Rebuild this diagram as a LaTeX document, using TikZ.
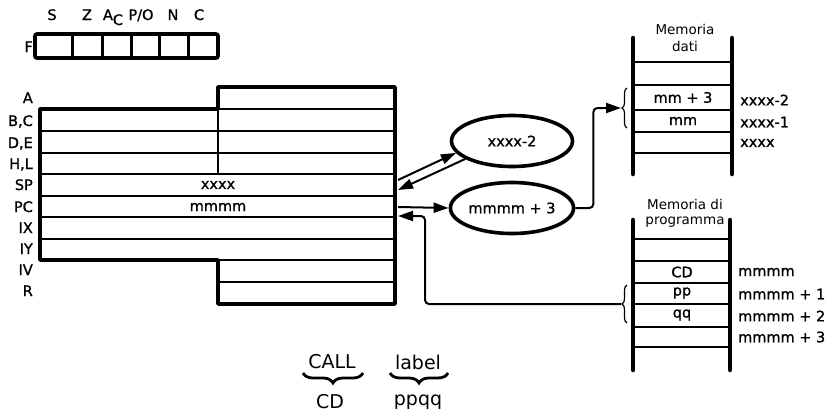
\documentclass[tikz,border=0pt]{standalone}
\usepackage{fontspec}
\setmainfont{DejaVu Sans}
\newfontfamily\heavyfont{DejaVu Sans}[FakeBold=1.1]
\usetikzlibrary{shapes.geometric,arrows.meta,decorations.pathreplacing}
\begin{document}
\begin{tikzpicture}[x=1pt,y=-1pt,
  txt/.style={font=\fontsize{14.5}{16}\heavyfont, inner sep=0pt},
  bigtxt/.style={font=\fontsize{19}{21}\selectfont, inner sep=0pt},
  hdr/.style={font=\fontsize{13.5}{15}\selectfont, inner sep=0pt},
  regframe/.style={line width=3.6pt, line join=round},
  regrule/.style={line width=2pt},
  oval/.style={ellipse, draw, line width=3.6pt, minimum width=121pt, minimum height=51pt, inner sep=0pt, font=\fontsize{14.5}{16}\heavyfont},
  conn/.style={line width=2pt, -{Triangle[length=15pt,width=10pt]}},
  rail/.style={line width=4.5pt, line cap=round},
  memrule/.style={line width=2.5pt},
  membrace/.style={decorate, decoration={brace, amplitude=5pt}, line width=1.2pt},
  bigbrace/.style={decorate, decoration={brace, amplitude=10pt}, line width=2.8pt}
]
\useasboundingbox (0,0) rectangle (831,413);

% ---- flags ----
\node[txt, anchor=base] (fS) at (52,20) {S};
\node[txt, anchor=base] (fZ) at (87,20) {Z};
\node[txt, anchor=base] (fA) at (113,20) {A\raisebox{-5pt}{C}};
\node[txt, anchor=base] (fP) at (141,20) {P/O};
\node[txt, anchor=base] (fN) at (173,20) {N};
\node[txt, anchor=base] (fC) at (199,20) {C};
\node[txt, anchor=base east] (fF) at (33,52) {F};
\draw[line width=3.6pt, rounded corners=2pt] (35,34) rectangle (218,58);
\foreach \x in {72,102,131,159,188} \draw[line width=3pt] (\x,34) -- (\x,58);

% ---- register block ----
\draw[regframe] (218,87) -- (395,87) -- (395,304) -- (218,304) -- (218,260) -- (40,260) -- (40,109) -- (218,109) -- cycle;
\draw[regrule] (218,109) -- (395,109);
\foreach \y in {131,153,174,196,217,239} \draw[regrule] (40,\y) -- (395,\y);
\draw[regrule] (218,260) -- (395,260);
\draw[regrule] (218,282) -- (395,282);
\draw[regrule] (218,109) -- (218,174);

\node[txt, anchor=base east] (rA)  at (33,103) {A};
\node[txt, anchor=base east] (rBC) at (33,126) {B,C};
\node[txt, anchor=base east] (rDE) at (33,148) {D,E};
\node[txt, anchor=base east] (rHL) at (33,169) {H,L};
\node[txt, anchor=base east] (rSP) at (33,190) {SP};
\node[txt, anchor=base east] (rPC) at (33,212) {PC};
\node[txt, anchor=base east] (rIX) at (33,233) {IX};
\node[txt, anchor=base east] (rIY) at (33,254) {IY};
\node[txt, anchor=base east] (rIV) at (33,275) {IV};
\node[txt, anchor=base east] (rR)  at (33,296) {R};

\node[txt] (vSP) at (218,185) {xxxx};
\node[txt] (vPC) at (218,207) {mmmm};

\coordinate (spout) at (398,180);
\coordinate (spin)  at (398,190);
\coordinate (pcout) at (398,207);
\coordinate (pcin)  at (398,216);

% ---- ellipses ----
\node[oval] (e1) at (512,141) {xxxx-2};
\node[oval] (e2) at (512,208) {mmmm + 3};

% ---- data memory ----
\node[hdr] (dh1) at (685,29) {Memoria};
\node[hdr] (dh2) at (685,46) {dati};
\draw[rail] (633,38) -- (633,174);
\draw[rail] (732,38) -- (732,174);
\foreach \y in {62,85,110,132,153} \draw[memrule] (633,\y) -- (732,\y);
\node[txt] (d2) at (683,97.5) {mm + 3};
\node[txt] (d3) at (683,121) {mm};
\node[txt, anchor=west] (da1) at (740,100) {xxxx-2};
\node[txt, anchor=west] (da2) at (740,122) {xxxx-1};
\node[txt, anchor=west] (da3) at (740,143) {xxxx};
\draw[membrace] (627,128) -- (627,88);
\coordinate (dbr) at (621,108);

% ---- program memory ----
\node[hdr] (ph1) at (685,204) {Memoria di};
\node[hdr] (ph2) at (685,222) {programma};
\draw[rail] (633,220) -- (633,370);
\draw[rail] (730,220) -- (730,370);
\foreach \y in {239,261,283,304,327,347} \draw[memrule] (633,\y) -- (730,\y);
\node[txt] (p2) at (682,272) {CD};
\node[txt] (p3) at (682,293) {pp};
\node[txt] (p4) at (682,315) {qq};
\node[txt, anchor=west] (pa1) at (738,272) {mmmm};
\node[txt, anchor=west] (pa2) at (738,294) {mmmm + 1};
\node[txt, anchor=west] (pa3) at (738,316) {mmmm + 2};
\node[txt, anchor=west] (pa4) at (738,337) {mmmm + 3};
\draw[membrace] (627,323) -- (627,285);
\coordinate (pbr) at (621,304);

% ---- connectors ----
\draw[conn] (spout) -- (e1.192);
\draw[conn] (e1.201) -- (spin);
\draw[conn] (pcout) -- (e2.west);
\draw[conn, rounded corners=4pt] (e2.east) -- ++(18,0) |- (dbr);
\draw[conn, rounded corners=4pt] (pbr) -- ++(-196,0) |- (pcin);

% ---- bottom ----
\node[bigtxt] (call) at (332,362) {CALL};
\node[bigtxt] (cd) at (330,402) {CD};
\node[bigtxt] (lab) at (418,362) {label};
\node[bigtxt] (ppqq) at (418,402) {ppqq};
\draw[bigbrace] (363,373) -- (303,373);
\draw[bigbrace] (448,373) -- (390,373);
\end{tikzpicture}
\end{document}
